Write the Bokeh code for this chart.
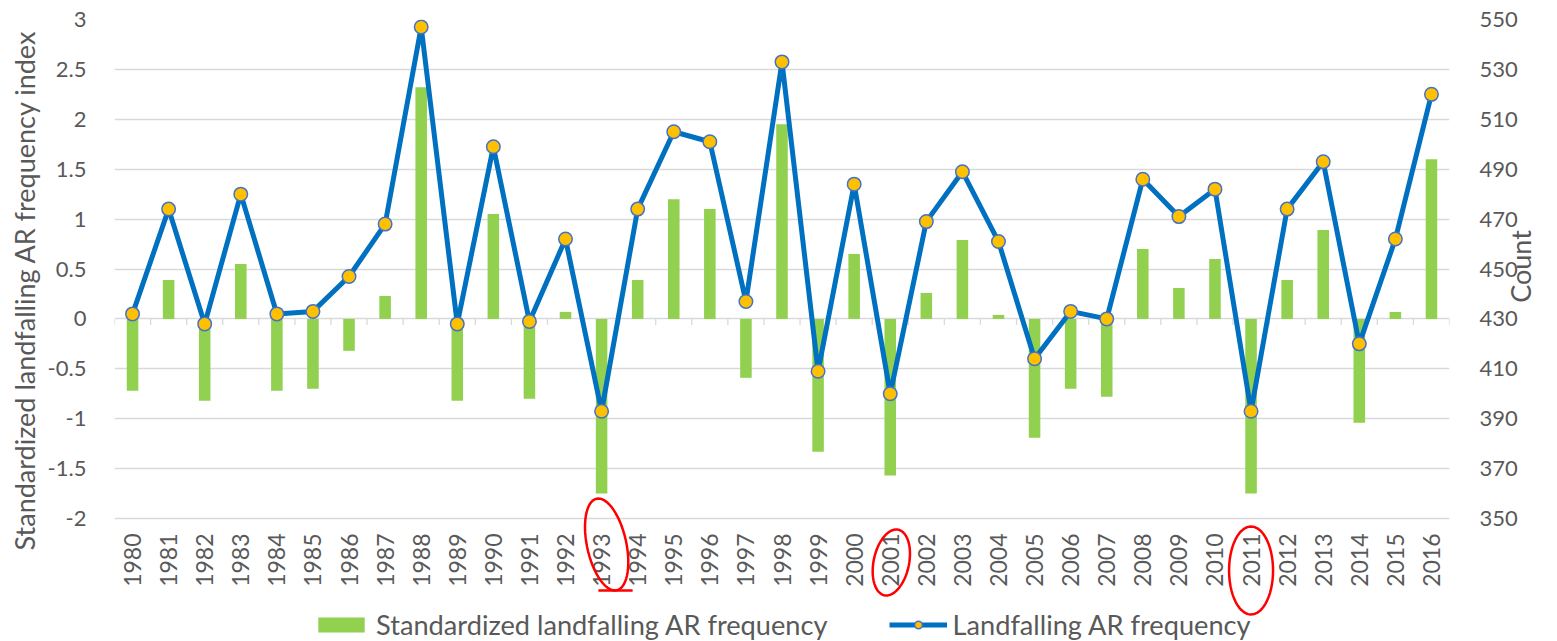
import numpy as np
from bokeh.plotting import figure
from bokeh.models import (Range1d, LinearAxis, FixedTicker, CustomJSTickFormatter,
                          Legend, LegendItem, Title)
from bokeh.core.properties import value
from bokeh.embed import file_html
from bokeh.resources import INLINE

# ---------------- data ----------------
years = list(range(1980, 2017))
std_freq = [-0.72, 0.39, -0.82, 0.55, -0.72, -0.70, -0.32, 0.23, 2.32, -0.82,
            1.05, -0.80, 0.07, -1.75, 0.39, 1.20, 1.10, -0.59, 1.95, -1.33,
            0.65, -1.57, 0.26, 0.79, 0.04, -1.19, -0.70, -0.78, 0.70, 0.31,
            0.60, -1.75, 0.39, 0.89, -1.04, 0.07, 1.60]
counts = [432, 474, 428, 480, 432, 433, 447, 468, 547, 428,
          499, 429, 462, 393, 474, 505, 501, 437, 533, 409,
          484, 400, 469, 489, 461, 414, 433, 430, 486, 471,
          482, 393, 474, 493, 420, 462, 520]
left_ticks = [-2, -1.5, -1, -0.5, 0, 0.5, 1, 1.5, 2, 2.5, 3]
right_ticks = [350, 370, 390, 410, 430, 450, 470, 490, 510, 530, 550]
highlight_years = [1993, 2001, 2011]

bar_label = "Standardized landfalling AR frequency"
line_label = "Landfalling AR frequency"
left_title = "Standardized landfalling AR frequency index"
right_title = "Count"

# ---------------- style / geometry ----------------
FONT = "Lato"
GREY = "#595959"
GRID = "#d9d9d9"
W, H = 1557, 641
F_LEFT, F_RIGHT, F_TOP = 114, 1449, 19
PLOT_BOTTOM = 518                      # pixel row of the -2 gridline
PX_Y = (PLOT_BOTTOM - F_TOP) / (left_ticks[-1] - left_ticks[0])
PX_X = (F_RIGHT - F_LEFT) / len(years)
y_low = left_ticks[0] - (H - PLOT_BOTTOM) / PX_Y
ratio = (right_ticks[-1] - right_ticks[0]) / (left_ticks[-1] - left_ticks[0])
idx = list(range(len(years)))

p = figure(width=W, height=H, output_backend="svg", toolbar_location=None,
           x_range=Range1d(-0.5, len(years) - 0.5),
           y_range=Range1d(y_low, left_ticks[-1]),
           x_axis_location=None,
           min_border_left=F_LEFT, min_border_right=W - F_RIGHT,
           min_border_top=F_TOP, min_border_bottom=0)
p.outline_line_color = None
p.xgrid.visible = False
p.ygrid.ticker = FixedTicker(ticks=left_ticks)
p.ygrid.grid_line_color = GRID
p.ygrid.grid_line_width = 1.3

# left axis
ya = p.left[0]
ya.ticker = FixedTicker(ticks=left_ticks)
ya.formatter = CustomJSTickFormatter(code="return tick.toString();")
ya.axis_line_color = None
ya.major_tick_line_color = None
ya.minor_tick_line_color = None
ya.major_label_standoff = 22
ya.major_label_text_font = FONT
ya.major_label_text_font_size = "22px"
ya.major_label_text_color = GREY

p.add_layout(Title(text=left_title, align="left", offset=91, standoff=8,
                   text_font=FONT, text_font_size="27px",
                   text_font_style="normal", text_color=GREY), "left")

# right axis
p.extra_y_ranges = {"count": Range1d(right_ticks[0] - (left_ticks[0] - y_low) * ratio,
                                     right_ticks[-1])}
ra = LinearAxis(y_range_name="count", ticker=FixedTicker(ticks=right_ticks))
ra.axis_line_color = None
ra.major_tick_line_color = None
ra.minor_tick_line_color = None
ra.major_label_standoff = 24
ra.major_label_text_font = FONT
ra.major_label_text_font_size = "22px"
ra.major_label_text_color = GREY
ra.axis_label = "\u00a0" * 4 + right_title
ra.axis_label_orientation = np.pi / 2
ra.axis_label_text_font = FONT
ra.axis_label_text_font_size = "27px"
ra.axis_label_text_font_style = "normal"
ra.axis_label_text_color = GREY
ra.axis_label_standoff = 0
p.add_layout(ra, "right")

# category labels (rotated) under the plot area
label_y = left_ticks[0] - 15 / PX_Y
p.text(x=idx, y=[label_y] * len(idx), text=[str(y) for y in years],
       angle=np.pi / 2, text_align="right", text_baseline="middle",
       text_font=value(FONT), text_font_size=value("23px"), text_color=GREY)

# category tick marks on the zero line
bounds = [i - 0.5 for i in range(len(years) + 1)]
p.segment(x0=bounds, y0=[0] * len(bounds), x1=bounds,
          y1=[-6 / PX_Y] * len(bounds), line_color=GRID, line_width=1.3)

bars = p.vbar(x=idx, top=std_freq, bottom=0, width=0.32,
              fill_color="#92D050", line_color=None)
ln = p.line(x=idx, y=counts, y_range_name="count", line_color="#0070C0",
            line_width=5, line_join="round")
mk = p.scatter(x=idx, y=counts, y_range_name="count", size=13.5,
               fill_color="#FFC000", line_color="#4472C4", line_width=1.5)

legend = Legend(items=[LegendItem(label=bar_label, renderers=[bars]),
                       LegendItem(label=line_label, renderers=[ln, mk])],
                location=(198, 0), orientation="horizontal",
                glyph_width=58, glyph_height=19, label_standoff=6, spacing=61,
                padding=0, margin=0, label_text_font=FONT,
                label_text_font_size="27.2px", label_text_color=GREY,
                border_line_alpha=0, background_fill_alpha=0)
p.add_layout(legend)

# hand-drawn red marks around highlighted years
shape_style = {1993: (0.14, 544, 20, 46, -0.18),
               2001: (0.03, 562, 18, 33, 0.15),
               2011: (0.0, 570, 22, 44, 0.0)}
t = np.linspace(0, 2 * np.pi, 60)
mxs, mys = [], []
for yr in highlight_years:
    dx, cy_px, rx, ry, k = shape_style[yr]
    cx = years.index(yr) + dx
    cy = left_ticks[0] - (cy_px - PLOT_BOTTOM) / PX_Y
    ox = rx * np.cos(t)
    oy = ry * np.sin(t)
    ox = ox + k * oy
    mxs.append(list(cx + ox / PX_X))
    mys.append(list(cy + oy / PX_Y))
i93 = years.index(1993)
stroke_y = left_ticks[0] - (590 - PLOT_BOTTOM) / PX_Y
mxs.append([i93 - 0.09, i93 + 0.86])
mys.append([stroke_y, stroke_y])
p.multi_line(xs=mxs, ys=mys, line_color="red", line_width=2.5)

open("out.html", "w").write(file_html(p, INLINE))
